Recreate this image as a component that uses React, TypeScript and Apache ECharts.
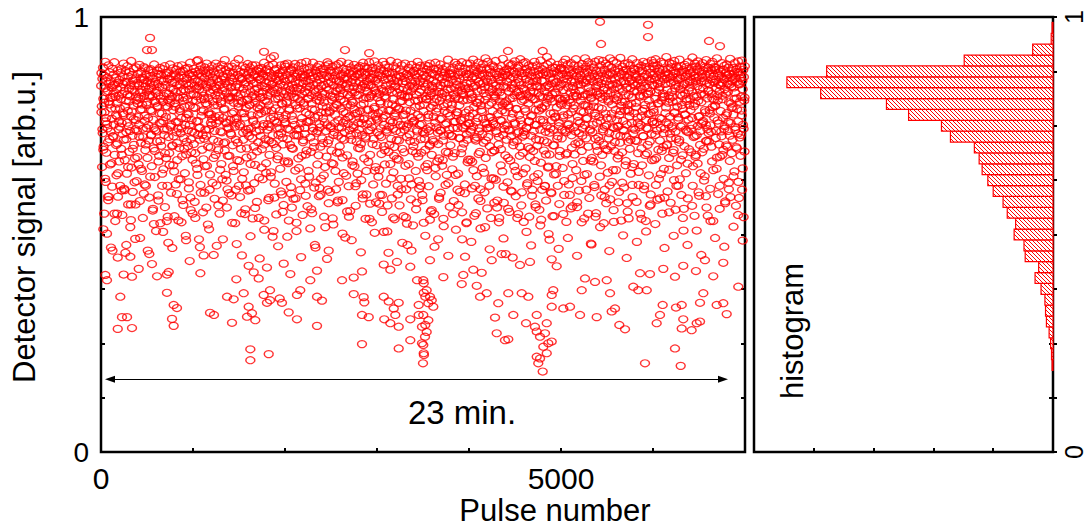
import React, { useEffect, useRef } from "react";
import * as echarts from "echarts";

// ---------- DATA ----------
const SEGMENT_PULSES = 1000;
// Detector signal (per mille) of the pulses, one array per block of 1000 pulses
const band0 = [
842,871,795,655,858,733,884,812,702,866,548,781,836,897,760,621,853,688,827,502,
861,744,830,579,889,806,847,719,873,661,815,852,470,790,838,766,610,881,726,843,
824,868,753,896,683,845,531,817,774,860,636,801,834,709,877,587,849,742,819,668,
855,790,612,872,838,697,881,756,823,545,862,779,846,893,718,605,829,671,851,458,
876,808,735,851,640,887,822,784,569,863,749,835,690,874,818,517,844,772,899,654,
833,867,727,598,854,796,881,706,842,828,675,490,859,763,817,884,623,738,848,801,
869,815,661,843,752,890,577,826,787,857,711,874,832,646,799,861,538,724,848,885,
819,856,773,882,694,840,612,867,745,828,804,853,463,768,878,716,835,585,821,864,
847,786,880,729,836,657,859,818,555,872,764,843,698,891,807,632,851,740,826,508,
862,831,714,877,793,846,590,820,869,681,839,757,883,526,812,868,704,855,778,640,
838,880,761,650,852,818,729,887,563,844,795,866,676,825,871,742,612,857,809,481,
873,824,687,858,803,891,748,836,596,864,770,817,849,705,882,659,833,726,870,542,
850,794,866,615,828,879,735,843,671,816,887,758,532,861,812,699,845,784,874,627,
829,865,744,889,680,851,807,876,568,834,722,860,794,641,881,830,497,768,847,713,
858,811,883,703,842,776,620,869,833,752,895,585,821,864,689,847,736,872,548,808,
];
const band1 = [
866,823,708,881,842,575,857,791,874,663,835,760,899,818,637,852,729,870,841,489,
834,879,746,852,614,888,811,773,863,695,829,846,551,876,786,819,720,859,884,657,
871,802,845,727,893,658,838,866,523,814,781,877,742,850,603,826,869,700,843,776,
849,887,765,619,861,832,718,875,797,840,582,868,820,683,893,756,836,474,858,811,
885,827,694,851,773,870,548,843,819,737,881,806,662,855,890,627,831,768,864,710,
837,860,789,901,712,848,637,878,825,756,562,869,843,681,816,885,744,595,852,809,
874,816,733,862,839,590,886,778,851,705,827,872,646,803,859,766,893,526,840,718,
826,881,757,845,671,867,818,801,903,612,838,749,862,586,874,823,697,857,779,452,
859,804,887,718,835,643,872,846,769,825,558,883,791,850,677,866,810,734,892,601,
841,873,726,860,797,884,603,829,855,744,874,681,818,889,537,847,763,866,702,822,
868,832,660,889,814,753,849,877,575,836,792,862,712,881,825,631,857,740,874,797,
815,856,779,883,696,842,870,627,828,865,754,895,511,839,808,719,876,848,664,786,
879,837,741,864,819,579,888,797,852,683,872,826,766,905,643,844,712,861,830,495,
847,891,708,835,866,762,617,878,824,790,857,546,881,745,838,673,869,812,729,854,
863,818,784,872,651,846,889,733,829,592,864,801,877,707,842,568,858,823,755,891,
];
const band2 = [
852,886,775,829,621,867,806,743,893,668,841,818,532,875,789,857,706,833,880,594,
876,824,699,858,845,763,884,582,836,870,728,815,892,647,851,797,863,508,829,741,
838,869,812,727,887,653,849,875,790,602,861,834,756,894,681,823,868,545,847,717,
861,803,882,745,829,866,617,853,780,897,693,840,826,565,878,759,812,871,633,848,
884,839,762,857,690,873,820,801,549,866,738,895,843,712,831,608,860,786,877,470,
827,872,734,849,885,661,818,864,773,835,588,890,807,746,856,702,879,628,842,815,
867,826,795,881,710,844,636,859,872,758,823,517,887,780,838,679,864,751,896,603,
848,891,717,832,863,781,598,877,820,745,851,873,664,809,886,537,843,729,858,792,
873,815,756,866,646,889,829,800,854,688,877,574,837,763,892,621,852,818,703,836,
832,864,790,897,721,845,869,579,824,757,881,641,858,806,735,873,493,841,779,862,
879,847,682,858,822,769,893,611,836,871,740,818,554,884,797,850,718,866,827,659,
856,803,875,746,839,890,657,827,863,778,566,849,881,714,820,868,640,836,757,884,
821,869,768,852,698,887,834,797,625,874,842,729,861,583,895,812,765,846,675,872,
886,838,721,867,815,592,853,882,754,829,873,667,844,787,896,536,857,740,818,861,
843,876,747,822,883,708,859,615,838,869,789,898,647,831,853,771,574,880,826,705,
];
const band3 = [
858,815,762,889,633,847,871,728,823,591,866,801,744,880,685,835,552,862,784,897,
830,876,703,855,818,661,890,774,842,617,869,829,736,507,874,801,858,690,883,748,
871,834,785,662,899,846,720,859,583,827,872,758,811,643,887,853,701,535,840,779,
843,882,738,861,674,826,895,612,852,789,866,716,834,567,878,806,752,863,628,819,
889,823,697,848,775,871,542,837,860,741,816,893,658,852,785,604,869,724,831,476,
816,865,754,883,629,841,804,877,715,856,581,829,890,768,847,692,873,521,836,760,
876,840,713,867,793,852,646,884,821,573,861,737,897,808,679,843,870,605,827,752,
851,888,769,833,688,874,813,591,859,736,882,848,527,867,799,720,840,656,889,818,
864,811,742,879,662,846,887,775,611,830,858,704,893,819,748,553,871,825,683,842,
837,869,796,854,713,881,547,827,866,757,895,634,848,782,812,875,668,838,734,489,
882,828,675,862,807,739,891,596,843,873,766,824,658,857,880,716,536,849,795,866,
826,873,753,848,690,885,818,637,861,779,834,902,618,846,731,869,812,564,878,705,
868,835,727,871,799,650,856,884,745,821,577,864,838,687,895,759,817,511,852,781,
845,890,781,829,640,867,812,722,858,886,598,840,763,873,687,831,896,551,825,746,
874,821,709,863,842,768,615,881,835,751,869,526,847,893,718,810,862,672,837,786,
];
const band4 = [
869,826,755,893,672,848,881,741,822,606,860,815,778,902,648,839,864,543,877,720,
842,885,716,857,803,634,874,829,768,895,583,851,737,868,810,690,846,514,883,797,
878,833,782,866,653,892,848,711,825,870,597,839,756,905,676,858,818,744,881,560,
851,897,724,839,864,769,612,880,827,746,872,538,856,803,689,889,834,761,847,629,
886,822,693,871,814,752,899,626,843,867,733,827,578,882,796,856,707,862,538,838,
827,874,763,853,696,887,819,785,645,862,904,729,841,573,876,802,751,867,682,455,
872,838,718,880,851,620,866,797,893,741,829,552,874,812,670,857,889,726,836,599,
845,891,778,862,705,836,874,657,820,898,754,848,588,869,788,827,715,882,634,858,
888,829,736,850,875,681,819,903,763,843,567,871,807,725,864,641,836,894,529,810,
834,871,789,896,652,857,823,746,880,613,845,872,701,818,760,889,541,853,678,828,
877,816,727,864,839,774,603,886,851,692,828,873,632,897,752,811,569,860,719,841,
853,889,704,841,866,639,878,826,785,557,869,818,741,900,665,836,792,854,603,880,
816,869,758,887,693,852,829,612,874,736,840,578,866,803,712,891,843,654,818,501,
870,838,684,859,812,744,896,597,847,870,763,822,542,884,705,856,779,638,875,827,
848,883,771,826,657,873,851,720,890,612,836,865,749,812,570,879,692,842,801,882,
];
const band5 = [
883,846,721,869,808,653,895,832,774,858,591,877,816,739,902,684,849,529,866,797,
857,891,752,838,866,615,880,809,743,873,827,560,894,781,852,700,869,630,841,818,
834,872,797,889,684,851,826,737,903,648,864,817,563,879,771,845,712,887,601,856,
875,830,708,867,845,783,623,892,856,727,818,881,669,849,798,537,872,751,905,822,
849,886,766,855,639,874,822,795,896,702,838,863,584,880,742,829,670,858,813,477,
891,827,735,870,852,668,884,806,614,863,779,897,720,841,549,876,829,757,851,692,
866,843,792,901,715,858,633,877,824,761,889,590,847,870,683,812,899,737,832,526,
838,879,748,861,818,696,893,572,852,870,768,831,642,888,806,721,867,844,613,905,
872,825,703,856,884,778,621,845,868,747,899,556,834,813,692,876,857,729,822,648,
847,894,763,839,675,882,816,750,862,598,874,835,711,906,784,851,532,869,805,689,
886,829,741,876,853,608,867,892,785,820,659,847,879,725,838,572,861,798,894,713,
821,868,783,851,697,889,837,640,874,856,756,815,903,586,846,732,881,662,829,869,
879,842,716,866,803,861,575,894,829,769,848,687,883,614,857,747,876,820,548,839,
856,888,772,834,659,877,850,726,897,818,604,862,789,841,683,885,531,868,745,823,
894,837,706,862,824,777,636,881,853,714,871,829,592,858,796,900,671,844,759,887,
];
const band6 = [
867,894,781,843,672,881,856,729,903,614,862,827,758,889,580,846,802,695,874,833,
881,839,716,870,851,639,897,808,766,863,548,879,824,701,893,651,857,817,743,866,
846,873,792,908,705,858,833,599,882,869,753,820,676,895,812,732,861,573,849,884,
892,828,744,864,817,688,876,853,625,899,779,836,871,557,844,720,886,806,659,861,
855,882,769,841,873,712,902,627,859,834,748,887,591,866,798,819,682,878,843,509,
874,846,703,890,824,775,863,641,885,812,737,868,849,583,896,764,831,696,877,852,
838,871,786,857,689,884,829,752,907,612,849,874,724,818,866,543,893,801,679,860,
886,853,728,879,841,663,898,807,771,862,589,875,834,706,889,641,851,823,755,869,
860,894,758,836,877,697,853,822,634,884,781,866,715,901,562,848,813,742,875,829,
883,831,714,869,846,778,605,892,857,736,878,823,668,897,793,852,531,864,810,885,
849,878,795,883,722,856,837,651,905,818,762,871,593,846,880,707,829,866,679,843,
875,842,737,862,894,683,849,811,768,879,628,857,888,749,834,572,871,823,705,859,
891,866,702,847,828,759,883,619,869,845,727,904,586,862,801,839,687,876,852,794,
857,883,776,838,870,645,894,826,741,861,566,880,813,698,851,874,732,898,621,846,
872,845,723,886,859,681,868,817,785,900,603,853,834,752,879,540,862,808,691,887,
];
// Further pulses in the lower part of the band (per mille), one array per block of 1000 pulses
const fill0 = [
781,742,695,803,628,768,754,712,587,799,736,664,815,725,548,790,706,772,641,760,
748,811,683,731,775,602,794,719,757,655,806,738,569,783,697,765,620,742,808,678,
770,725,812,651,788,743,594,761,707,798,676,751,817,633,728,784,559,745,692,803,
737,796,668,779,715,756,612,805,741,687,770,531,793,724,660,812,752,703,786,645,
802,759,710,744,627,789,733,768,579,815,697,752,684,777,740,606,796,719,763,672,
];
const fill1 = [
792,734,687,808,651,761,745,718,596,783,729,673,811,741,562,799,702,776,638,757,
752,806,676,738,770,613,797,714,762,649,801,735,578,787,693,758,624,746,813,681,
764,729,815,657,782,748,603,768,711,794,669,753,807,628,734,779,547,741,698,809,
743,799,662,774,721,760,618,803,737,691,776,538,788,727,654,816,749,707,783,642,
806,754,716,747,633,785,728,771,585,812,699,757,680,773,744,599,801,723,766,668,
];
const fill2 = [
758,802,719,664,785,741,609,773,697,816,752,583,729,790,675,744,806,627,768,712,
797,731,684,759,813,646,776,723,558,788,745,701,769,619,809,738,682,754,591,781,
721,767,804,655,738,792,710,572,784,749,693,817,662,735,775,604,798,727,746,688,
810,746,677,782,718,763,635,799,754,541,772,729,807,668,751,788,611,733,779,699,
741,784,708,756,592,801,767,725,646,786,739,814,683,759,528,777,720,793,655,766,
];
const fill3 = [
735,779,648,806,724,591,768,752,694,813,741,567,785,706,762,629,799,743,681,771,
794,717,760,672,788,735,604,807,751,689,776,539,748,819,662,730,785,615,757,703,
762,808,687,741,775,623,796,719,754,579,783,732,695,811,648,769,738,707,792,556,
717,771,804,653,746,790,708,582,765,739,815,671,727,784,614,756,801,688,742,773,
788,726,679,759,812,637,774,745,568,797,721,763,698,808,744,595,780,730,666,755,
];
const fill4 = [
772,736,811,667,748,793,612,759,724,803,685,744,577,786,731,766,642,809,716,754,
745,798,703,770,629,784,755,693,818,738,562,777,724,806,659,761,797,610,742,781,
806,751,676,792,739,601,768,814,713,757,646,789,733,547,774,702,818,753,688,736,
729,783,744,618,801,760,697,772,589,811,738,669,787,752,623,799,717,764,534,790,
763,716,795,684,749,813,656,734,778,595,806,741,705,769,639,792,726,758,681,812,
];
const fill5 = [
798,741,769,623,812,735,687,776,754,591,803,728,662,790,747,708,819,574,761,733,
756,808,692,745,781,637,797,721,768,548,786,739,815,676,752,794,609,773,704,821,
724,770,816,659,789,742,706,603,778,751,694,810,733,581,767,799,648,745,712,787,
809,748,682,775,727,796,619,761,738,805,669,753,786,537,772,718,801,655,744,779,
741,793,715,757,644,817,752,698,784,726,612,798,763,687,743,808,566,779,731,760,
];
const fill6 = [
787,754,812,676,739,801,628,768,745,692,816,733,585,779,758,707,803,649,771,722,
749,805,694,781,737,612,794,763,718,822,672,751,789,559,776,741,807,663,735,798,
811,743,768,657,795,726,683,817,749,597,772,738,804,689,761,624,786,752,715,543,
733,786,751,702,813,648,769,797,738,677,808,755,612,784,726,819,695,743,576,774,
779,738,804,669,756,791,718,634,812,747,701,788,760,584,805,729,774,652,743,815,
];
// Weaker pulses (per mille), one array per block of 1000 pulses
const weak0 = [512,587,463,548,601,476,533,569,492,615,455,524,578,506,541,469,593,528,487,556];
const weak1 = [538,471,596,512,453,567,489,604,527,478,549,613,496,561,445,532,584,508,473,552];
const weak2 = [495,562,527,448,589,514,476,607,541,463,523,578,502,553,487,618,459,536,571,504];
const weak3 = [571,506,458,539,592,481,525,463,558,612,497,534,472,586,519,451,547,603,489,528];
const weak4 = [483,549,604,517,466,573,528,491,559,447,538,597,506,475,563,521,611,488,542,467];
const weak5 = [547,492,565,451,528,603,479,541,517,586,462,529,574,498,553,614,483,536,507,569];
const weak6 = [524,583,469,551,497,612,538,476,566,509,453,588,531,492,559,472,604,518,545,486];

// Isolated pulses: [pulse number, detector signal]
const lowTailPoints = [
[210,0.357],[717,0.366],[790,0.338],[826,0.331],[228,0.310],[283,0.310],[182,0.283],[337,0.285],[772,0.306],[790,0.290],
[1185,0.320],[1228,0.315],[1424,0.297],[1370,0.357],[1442,0.351],[1623,0.236],[1623,0.211],[1823,0.225],[1551,0.365],[1605,0.334],
[1587,0.311],[1641,0.319],[1677,0.303],[1837,0.372],[1768,0.361],[1837,0.349],[1804,0.343],[1942,0.353],[1967,0.343],[2040,0.321],
[2130,0.305],[2130,0.361],[2166,0.372],[2348,0.290],[2348,0.357],[2402,0.348],[2837,0.248],[2747,0.363],[2855,0.356],[2862,0.344],
[2837,0.315],[2910,0.310],[3073,0.357],[3127,0.346],[3236,0.343],[3182,0.330],[3199,0.315],[3079,0.305],[3145,0.296],[3236,0.288],
[3362,0.305],[3453,0.315],[3236,0.238],[3362,0.257],[3489,0.288],[3525,0.292],[3489,0.250],[3508,0.227],[3500,0.204],[3453,0.338],
[3508,0.366],[3525,0.357],[3503,0.395],[3540,0.372],[3576,0.357],[3612,0.334],[3558,0.342],[3595,0.349],[3503,0.315],[3558,0.303],
[3540,0.276],[3522,0.265],[3503,0.246],[3510,0.223],[3721,0.402],[3921,0.386],[3938,0.407],[4084,0.382],[4120,0.357],[4192,0.365],
[4318,0.342],[4283,0.309],[4301,0.273],[4391,0.257],[4427,0.259],[4482,0.315],[4427,0.365],[4573,0.365],[4645,0.357],[4620,0.296],
[4736,0.315],[4717,0.288],[4736,0.277],[4772,0.265],[4826,0.273],[4845,0.296],[4862,0.250],[4808,0.242],[4899,0.254],[4845,0.227],
[4736,0.219],[4753,0.204],[4772,0.215],[4801,0.185],[4899,0.361],[4916,0.372],[4899,0.334],[5025,0.330],[5098,0.334],[5207,0.315],
[5225,0.372],[5370,0.391],[5497,0.395],[5388,0.310],[5551,0.323],[5587,0.330],[5634,0.292],[5696,0.282],[5533,0.365],[5786,0.380],
[5840,0.372],[5932,0.372],[5859,0.411],[5913,0.204],[6040,0.296],[6076,0.315],[6105,0.338],[6239,0.238],[6312,0.284],[6329,0.305],
[6250,0.332],[6312,0.338],[6301,0.198],[6420,0.280],[6475,0.296],[6511,0.300],[6511,0.343],[6547,0.365],[6692,0.338],[6764,0.342],
[6801,0.317],[6927,0.380],
];
const midTailPoints = [
[182,0.447],[319,0.449],[554,0.432],[609,0.404],[717,0.408],[964,0.439],[1080,0.411],[47,0.407],[65,0.395],[246,0.408],
[337,0.403],[410,0.421],[736,0.414],[1116,0.452],[1471,0.397],[1605,0.428],[1660,0.413],[1714,0.399],[1804,0.424],[1986,0.433],
[2058,0.409],[2275,0.395],[2348,0.417],[2457,0.444],[2620,0.395],[2747,0.401],[2837,0.415],[3073,0.431],[3145,0.419],[3217,0.437],
[3362,0.426],[3435,0.395],[3508,0.388],[3576,0.441],[3957,0.449],[4047,0.419],[4138,0.412],[4247,0.441],[4355,0.455],[4554,0.430],
[4663,0.437],[4899,0.443],[4953,0.427],[5261,0.399],[5714,0.446],[5967,0.409],[6112,0.421],[6239,0.403],[6329,0.428],[6467,0.416],
[6565,0.441],[6655,0.404],[6764,0.435],
];
const topOutliers = [
[533,0.952],[500,0.924],[554,0.924],[1054,0.901],[1772,0.920],[1880,0.910],[2652,0.924],[2915,0.917],[4424,0.922],[4801,0.922],
[4848,0.908],[5424,0.989],[5946,0.982],[5946,0.954],[5435,0.938],[6609,0.945],[6728,0.933],
];

// Histogram of the detector signal
const histBinCenter = [0.2,0.225,0.25,0.275,0.3,0.325,0.35,0.375,0.4,0.425,0.45,0.475,0.5,0.525,0.55,0.575,0.6,0.625,0.65,0.675,0.7,0.725,0.75,0.775,0.8,0.825,0.85,0.875,0.9,0.925,0.95,0.975];
const histCounts = [3,5,8,13,22,25,27,40,60,48,93,97,130,125,153,167,200,218,237,247,263,343,373,483,557,777,890,757,297,68,6,3];
const HIST_BIN_WIDTH = 0.025;

// Ticks / labels
const xLabelValues = [0, 5000];
const yLabelValues = [0, 1];
const arrowSpan = [98, 6761];
const arrowSignal = 0.167;
const spanLabel = "23 min.";

const FONT = "'Liberation Sans', Arial, Helvetica, sans-serif";

export default function App() {
  const ref = useRef<HTMLDivElement>(null);
  useEffect(() => {
    if (!ref.current) return;
    const chart = echarts.init(ref.current, null, { renderer: "svg" });

    const cv = document.createElement("canvas");
    cv.width = 4;
    cv.height = 4;
    const ctx = cv.getContext("2d");
    if (ctx) {
      ctx.fillStyle = "#ffffff";
      ctx.fillRect(0, 0, 4, 4);
      ctx.strokeStyle = "#ff0000";
      ctx.lineWidth = 1;
      ctx.beginPath();
      ctx.moveTo(-1, -1); ctx.lineTo(5, 5);
      ctx.moveTo(-1, 3); ctx.lineTo(1, 5);
      ctx.moveTo(3, -1); ctx.lineTo(5, 1);
      ctx.stroke();
    }
    const hatch: any = { image: cv, repeat: "repeat" };

    const scatterData: number[][] = [];
    const addBlocks = (blocks: number[][]) =>
      blocks.forEach((seg, s) => {
        seg.forEach((v, i) => {
          scatterData.push([s * SEGMENT_PULSES + ((i + 0.5) * SEGMENT_PULSES) / seg.length, v / 1000]);
        });
      });
    addBlocks([band0, band1, band2, band3, band4, band5, band6]);
    addBlocks([fill0, fill1, fill2, fill3, fill4, fill5, fill6]);
    addBlocks([weak0, weak1, weak2, weak3, weak4, weak5, weak6]);
    [...midTailPoints, ...lowTailPoints, ...topOutliers].forEach((p) => scatterData.push(p));

    const histData = histCounts.map((c, i) => [c, histBinCenter[i]]);

    const tick = { show: true, inside: true, length: 4, lineStyle: { color: "#000", width: 2 } };
    const noLine = { show: false };

    const option: any = {
      animation: false,
      grid: [
        { left: 101, top: 17, width: 644, height: 435, show: true, borderColor: "#000", borderWidth: 2.5, backgroundColor: "transparent" },
        { left: 754, top: 17, width: 299, height: 435, show: true, borderColor: "#000", borderWidth: 2.5, backgroundColor: "transparent" },
      ],
      xAxis: [
        {
          gridIndex: 0, type: "value", min: 0, max: 7000, interval: 1000,
          axisLine: noLine, axisTick: tick, splitLine: { show: false },
          axisLabel: {
            formatter: (v: number) => (xLabelValues.indexOf(v) >= 0 ? String(v) : ""),
            fontSize: 30, fontFamily: FONT, color: "#000", margin: 11,
          },
        },
        {
          gridIndex: 1, type: "value", min: 0, max: 1000, interval: 200, inverse: true,
          axisLine: noLine, axisTick: tick, splitLine: { show: false }, axisLabel: { show: false },
        },
      ],
      yAxis: [
        {
          gridIndex: 0, type: "value", min: 0, max: 1, interval: 0.125, position: "left",
          axisLine: noLine, axisTick: tick, splitLine: { show: false },
          axisLabel: {
            formatter: (v: number) => (yLabelValues.indexOf(v) >= 0 ? String(v) : ""),
            fontSize: 28, fontFamily: FONT, color: "#000", margin: 12,
          },
        },
        {
          gridIndex: 0, type: "value", min: 0, max: 1, interval: 0.125, position: "right",
          axisLine: noLine, axisTick: tick, splitLine: { show: false }, axisLabel: { show: false },
        },
        {
          gridIndex: 1, type: "value", min: 0, max: 1, interval: 0.125, position: "left",
          axisLine: noLine, axisTick: tick, splitLine: { show: false }, axisLabel: { show: false },
        },
        {
          gridIndex: 1, type: "value", min: 0, max: 1, interval: 0.125, position: "right",
          axisLine: noLine, axisTick: tick, splitLine: { show: false },
          axisLabel: {
            rotate: 90,
            formatter: (v: number) => (yLabelValues.indexOf(v) >= 0 ? String(v) : ""),
            fontSize: 25, fontFamily: FONT, color: "#000", margin: 8,
          },
        },
      ],
      series: [
        {
          type: "scatter", xAxisIndex: 0, yAxisIndex: 0, data: scatterData,
          symbol: "circle", symbolSize: [9, 7], silent: true, large: false, progressive: 0,
          itemStyle: { color: "rgba(255,255,255,0)", borderColor: "#ff0000", borderWidth: 1.3 },
          markLine: {
            silent: true, symbol: ["triangle", "triangle"], symbolSize: [7, 10],
            lineStyle: { color: "#000", width: 1, type: "solid" },
            itemStyle: { color: "#000" },
            label: { show: false },
            data: [[{ coord: [arrowSpan[0], arrowSignal] }, { coord: [arrowSpan[1], arrowSignal] }]],
          },
        },
        {
          type: "custom", coordinateSystem: "cartesian2d", xAxisIndex: 1, yAxisIndex: 2,
          data: histData, encode: { x: 0, y: 1 }, silent: true,
          renderItem: (params: any, api: any) => {
            const count = api.value(0);
            const center = api.value(1);
            const a = api.coord([0, center + HIST_BIN_WIDTH / 2]);
            const b = api.coord([count, center - HIST_BIN_WIDTH / 2]);
            return {
              type: "rect",
              shape: {
                x: Math.min(a[0], b[0]), y: Math.min(a[1], b[1]),
                width: Math.abs(a[0] - b[0]), height: Math.abs(a[1] - b[1]),
              },
              style: { fill: hatch, stroke: "#ff0000", lineWidth: 1.2 },
            };
          },
        },
      ],
      graphic: [
        {
          type: "text", x: 555, y: 510,
          style: { text: "Pulse number", fontSize: 31, fontFamily: FONT, fill: "#000", textAlign: "center", textVerticalAlign: "middle", align: "center", verticalAlign: "middle" },
        },
        {
          type: "text", x: 24, y: 227, rotation: Math.PI / 2,
          style: { text: "Detector signal [arb.u.]", fontSize: 31, fontFamily: FONT, fill: "#000", textAlign: "center", textVerticalAlign: "middle", align: "center", verticalAlign: "middle" },
        },
        {
          type: "text", x: 462, y: 412,
          style: { text: spanLabel, fontSize: 33, fontFamily: FONT, fill: "#000", textAlign: "center", textVerticalAlign: "middle", align: "center", verticalAlign: "middle" },
        },
        {
          type: "text", x: 792, y: 331, rotation: Math.PI / 2,
          style: { text: "histogram", fontSize: 31, fontFamily: FONT, fill: "#000", textAlign: "center", textVerticalAlign: "middle", align: "center", verticalAlign: "middle" },
        },
      ],
    };
    chart.setOption(option);
    return () => chart.dispose();
  }, []);
  return <div ref={ref} style={{ position: "absolute", left: 0, top: 0, width: 1086, height: 529 }} />;
}
